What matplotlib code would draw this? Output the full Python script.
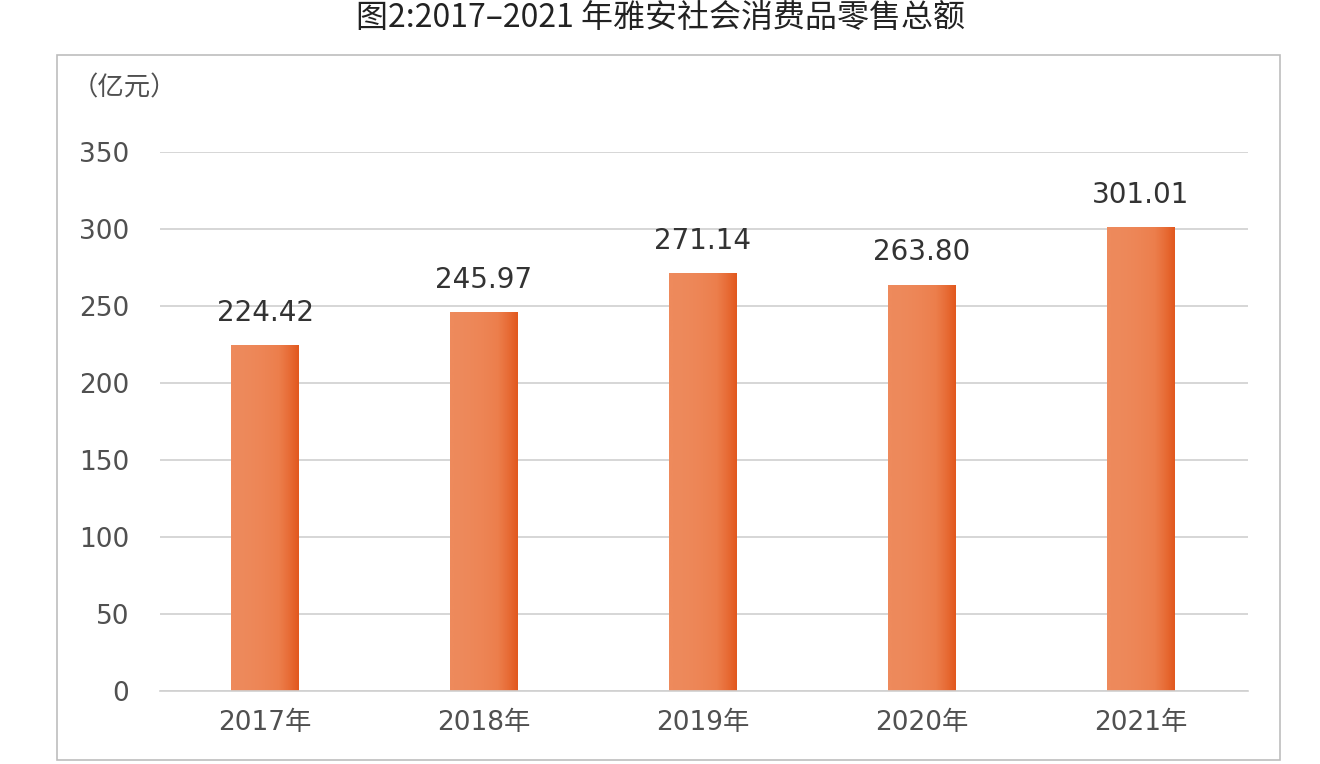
import matplotlib
matplotlib.use("Agg")
import matplotlib.pyplot as plt
import numpy as np
from matplotlib.patches import Rectangle
from matplotlib.colors import LinearSegmentedColormap

plt.rcParams['font.family'] = ['DejaVu Sans', 'Noto Sans CJK SC']

categories = ['2017年', '2018年', '2019年', '2020年', '2021年']
values = [224.42, 245.97, 271.14, 263.80, 301.01]
labels = ['224.42', '245.97', '271.14', '263.80', '301.01']
yticks = [0, 50, 100, 150, 200, 250, 300, 350]

fig = plt.figure(figsize=(13.2, 7.64), dpi=100)
fig.patches.append(Rectangle((57/1320, 1-760/764), (1280-57)/1320, (760-55)/764,
                             transform=fig.transFigure, fill=False, ec='#bdbdbd', lw=1.2))
fig.text(0.5, 1-18/764, '图2:2017–2021 年雅安社会消费品零售总额', ha='center', va='center',
         fontsize=23, color='#222222', family=['Noto Sans CJK SC', 'DejaVu Sans'])

ax = fig.add_axes([160/1320, 1-691/764, (1248-160)/1320, (691-152)/764])
ax.set_yticks(yticks)
ax.set_yticklabels([str(t) for t in yticks], fontsize=19, color='#505050')
ax.set_xticks(range(len(categories)))
ax.set_xticklabels(categories, fontsize=19, color='#505050')
ax.tick_params(axis='y', length=0, pad=22)
ax.tick_params(axis='x', length=0, pad=14)
ax.grid(axis='y', color='#d0d0d0', lw=1.2)
ax.set_axisbelow(True)
for s in ['top', 'right', 'left']:
    ax.spines[s].set_visible(False)
ax.spines['bottom'].set_color('#d0d0d0')
ax.spines['bottom'].set_linewidth(1.2)

cmap = LinearSegmentedColormap.from_list('g', ['#EE8A5C', '#EC7E4C', '#E2581E'])
grad = np.linspace(0, 1, 100).reshape(1, -1) ** 2
w = 0.31
for i, v in enumerate(values):
    bars = ax.bar(i, v, width=w, color='none', zorder=2)
    im = ax.imshow(grad, cmap=cmap, aspect='auto', extent=(i - w/2, i + w/2, 0, v), zorder=2)
    im.set_clip_path(bars[0])
    ax.text(i, v + 12, labels[i], ha='center', va='bottom', fontsize=20,
            color='#333333')
ax.set_xlim(-0.48, 4.49)
ax.set_ylim(0, 350)
fig.text(72/1320, 1-88/764, '（亿元）', ha='left', va='center', fontsize=19, color='#505050',
         family=['Noto Sans CJK SC', 'DejaVu Sans'])

fig.savefig('out.png')
